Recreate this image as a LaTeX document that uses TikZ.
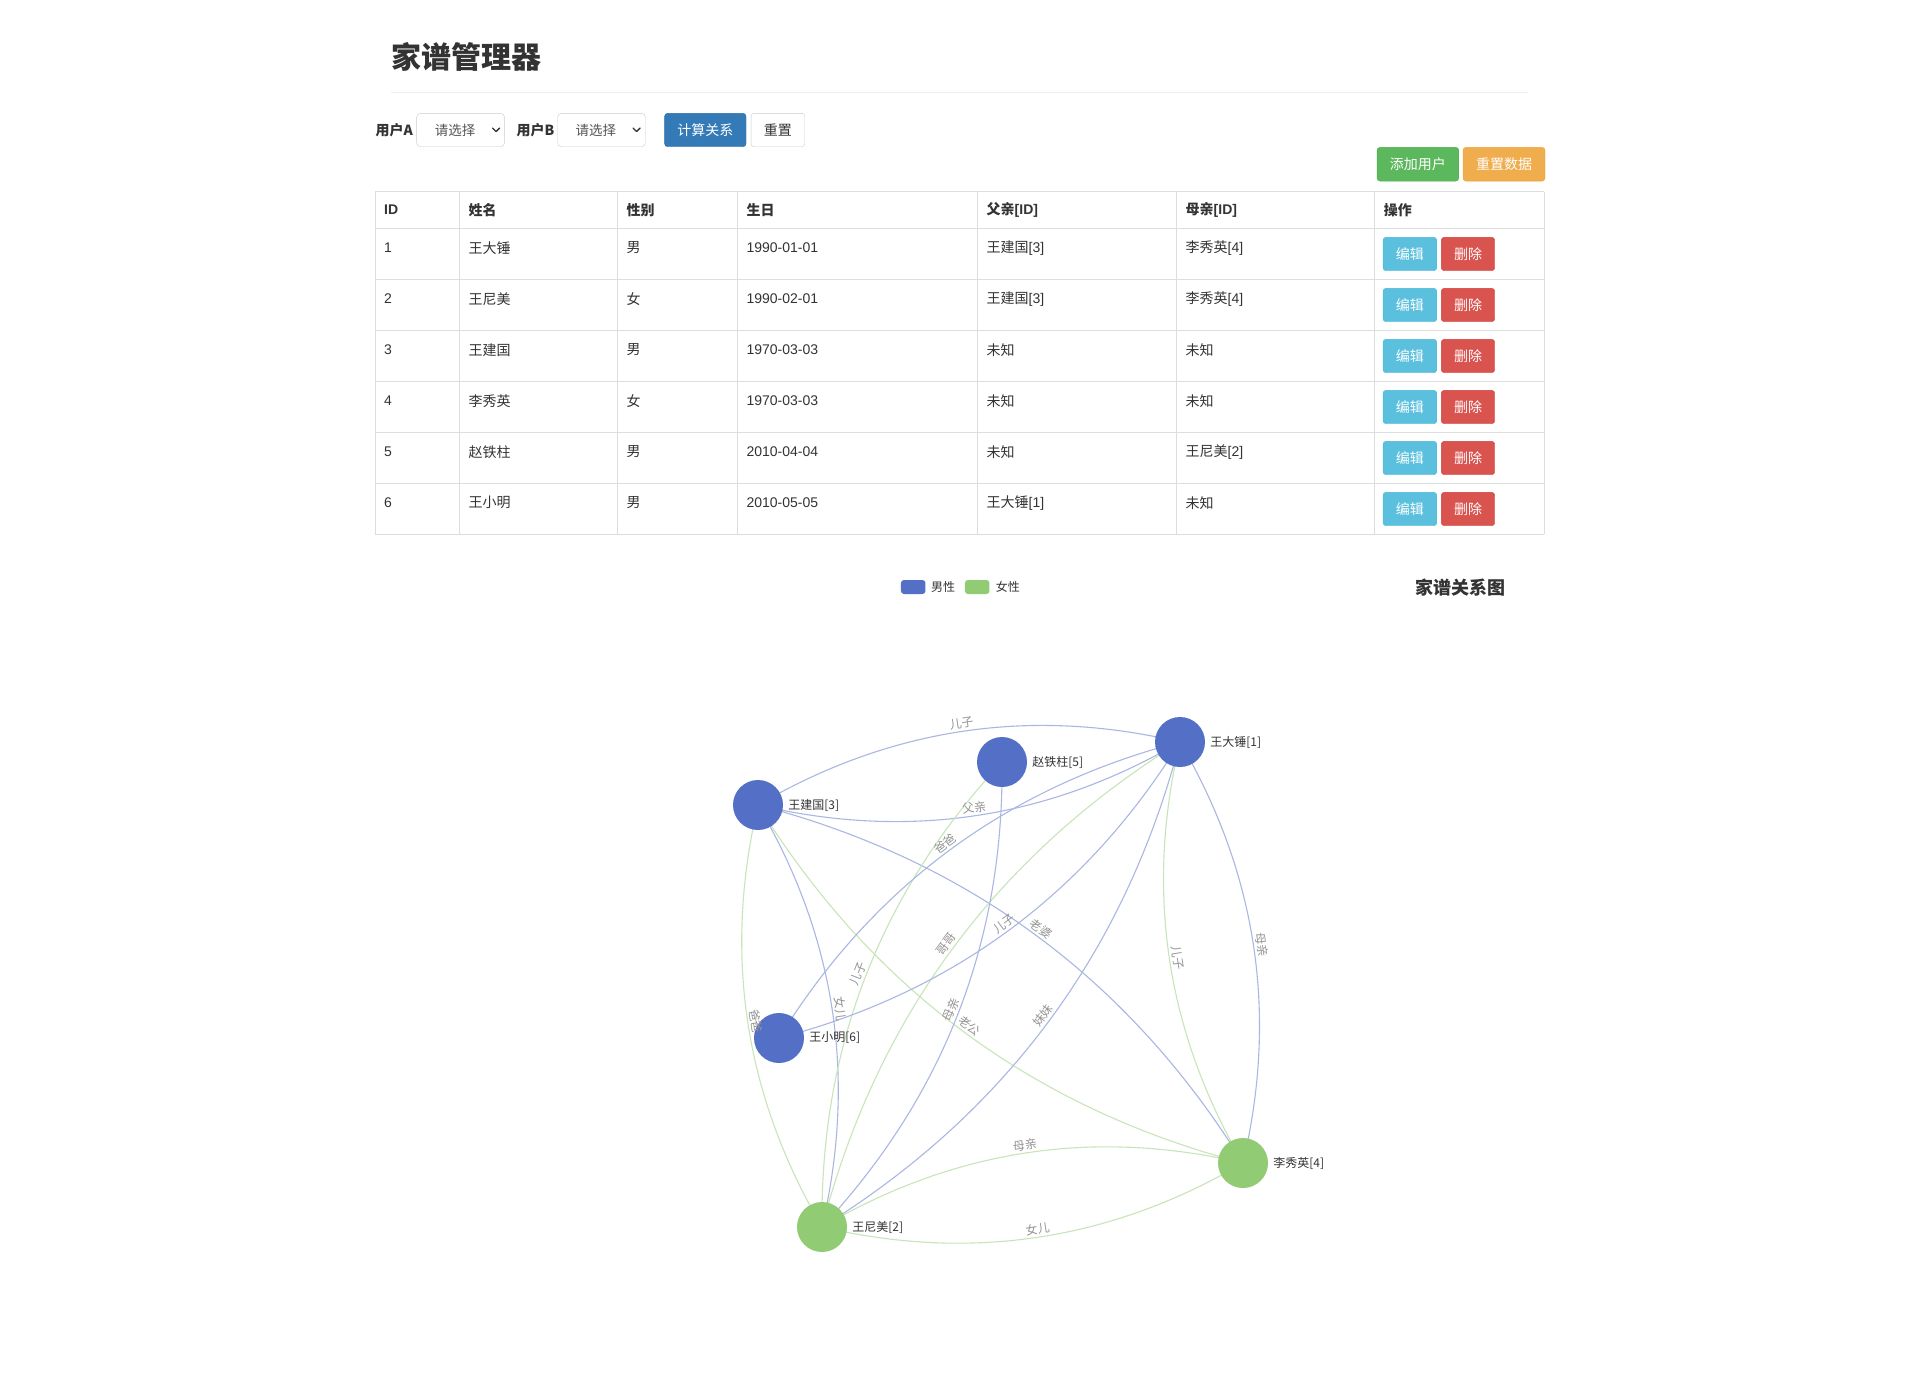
\documentclass[tikz,border=0pt]{standalone}
\usepackage{fontspec}
\setmainfont{Noto Sans CJK SC}
\newfontfamily\latf{Liberation Sans}
\usetikzlibrary{calc,backgrounds}
\definecolor{nblue}{HTML}{5470C6}
\definecolor{ngreen}{HTML}{91CC75}
\definecolor{eblue}{HTML}{A9B7E2}
\definecolor{egreen}{HTML}{C8E5BA}
\definecolor{bd}{HTML}{DDDDDD}
\definecolor{hr}{HTML}{EEEEEE}
\definecolor{txt}{HTML}{333333}
\definecolor{seltext}{HTML}{555555}
\definecolor{selbd}{HTML}{CCCCCC}
\definecolor{elab}{HTML}{949494}
\definecolor{binfo}{HTML}{5BC0DE}
\definecolor{binfoB}{HTML}{46B8DA}
\definecolor{bdanger}{HTML}{D9534F}
\definecolor{bdangerB}{HTML}{D43F3A}
\definecolor{bsucc}{HTML}{5CB85C}
\definecolor{bsuccB}{HTML}{4CAE4C}
\definecolor{bwarn}{HTML}{F0AD4E}
\definecolor{bwarnB}{HTML}{EEA236}
\definecolor{bprim}{HTML}{337AB7}
\definecolor{bprimB}{HTML}{2E6DA4}
\newcommand\fsz[1]{\fontsize{#1}{#1}\selectfont}
\newcommand\famedge[4]{%
  \path ($(#1.center)!0.5!(#2.center)$) coordinate (em);
  \path ($(em)!0.4!90:(#2.center)$) coordinate (ecp);
  \path ($(#1.center)!2/3!(ecp)$) coordinate (eca);
  \path ($(#2.center)!2/3!(ecp)$) coordinate (ecb);
  \begin{pgfonlayer}{background}
    \draw[#3] (#1.center) .. controls (eca) and (ecb) .. (#2.center);
  \end{pgfonlayer}
  \path (#1.center) .. controls (eca) and (ecb) .. (#2.center)
    node[elabel, pos=0.5, sloped, above=1.5pt] {#4};
}
\begin{document}
\begin{tikzpicture}[x=1pt,y=-1pt,
  tcell/.style={anchor=west, font=\fsz{14}, text=txt, inner sep=0},
  thead/.style={tcell, font=\fsz{14}\bfseries},
  lbl/.style={anchor=west, font=\fsz{14}\bfseries, text=txt, inner sep=0},
  selbox/.style={draw=selbd, fill=white, rounded corners=4, minimum height=33.4, inner sep=0},
  seltxt/.style={anchor=west, font=\fsz{13.5}, text=seltext, inner sep=0},
  chev/.style={draw=txt, line width=1.4, line cap=round, line join=round},
  btn/.style={rounded corners=3, minimum height=33.4, inner sep=0, font=\fsz{14}, text=white},
  gline/.style={draw=bd, line width=1},
  bedge/.style={draw=eblue, line width=1.1},
  gedge/.style={draw=egreen, line width=1.1},
  elabel/.style={font=\fsz{12}, text=elab, inner sep=1pt},
  mnode/.style={circle, fill=nblue, minimum size=50, inner sep=0},
  fnode/.style={circle, fill=ngreen, minimum size=50, inner sep=0},
  nlabel/.style={anchor=west, font=\fsz{12}, text=txt, inner sep=0}
]
\useasboundingbox (0,0) rectangle (1905,1395);
\begin{pgfonlayer}{background}
\fill[white] (0,0) rectangle (1905,1395);
\end{pgfonlayer}

% title
\node[anchor=west, inner sep=0, font=\fsz{30}\bfseries, text=txt] (title) at (391,57) {家谱管理器};
\draw[draw=hr, line width=1] (391,92) -- (1528,92);

% toolbar
\node[lbl] (la) at (375.4,130) {用户A};
\node[selbox, minimum width=88] (sa) at (460.6,130) {};
\node[seltxt] (sat) at (434.6,130) {请选择};
\draw[chev] (492.5,128) -- (496,131.5) -- (499.5,128);
\node[lbl] (lb) at (516.5,130) {用户B};
\node[selbox, minimum width=88] (sb) at (601.5,130) {};
\node[seltxt] (sbt) at (575.5,130) {请选择};
\draw[chev] (633,128) -- (636.5,131.5) -- (640,128);
\node[btn, fill=bprim, draw=bprimB, minimum width=81.4] (calc) at (705.3,130) {计算关系};
\node[btn, fill=white, draw=selbd, text=txt, minimum width=53.7] (rst) at (777.9,130) {重置};
\node[btn, fill=bsucc, draw=bsuccB, minimum width=81.7, minimum height=33.7] (add) at (1417.9,164.2) {添加用户};
\node[btn, fill=bwarn, draw=bwarnB, minimum width=82, minimum height=33.7] (rdata) at (1504,164.2) {重置数据};

% table grid
\foreach \yy in {191.7,228.3,279.3,330.3,381.3,432.3,483.3,534.3}
  \draw[gline] (375.3,\yy) -- (1544,\yy);
\foreach \xx in {375.3,459.5,617.3,737.3,977.5,1176.5,1374.7,1544}
  \draw[gline] (\xx,191.7) -- (\xx,534.3);

% header
\node[thead] (h1) at (384,210) {\latf ID};
\node[thead] (h2) at (468.5,210) {姓名};
\node[thead] (h3) at (626.3,210) {性别};
\node[thead] (h4) at (746.3,210) {生日};
\node[thead] (h5) at (986.5,210) {父亲{\latf [ID]}};
\node[thead] (h6) at (1185.5,210) {母亲{\latf [ID]}};
\node[thead] (h7) at (1383.7,210) {操作};

% rows
\foreach \r/\id/\nm/\sx/\bday/\fa/\mo in {
  0/1/王大锤/男/1990-01-01/{王建国{\latf [3]}}/{李秀英{\latf [4]}},
  1/2/王尼美/女/1990-02-01/{王建国{\latf [3]}}/{李秀英{\latf [4]}},
  2/3/王建国/男/1970-03-03/未知/未知,
  3/4/李秀英/女/1970-03-03/未知/未知,
  4/5/赵铁柱/男/2010-04-04/未知/{王尼美{\latf [2]}},
  5/6/王小明/男/2010-05-05/{王大锤{\latf [1]}}/未知}{
  \pgfmathsetmacro\ty{228.3+51*\r+19.4}
  \pgfmathsetmacro\by{228.3+51*\r+25.7}
  \node[tcell] (cid\id) at (384,\ty) {\latf\id};
  \node[tcell] (cnm\id) at (468.5,\ty) {\nm};
  \node[tcell] (csx\id) at (626.3,\ty) {\sx};
  \node[tcell] (cbd\id) at (746.3,\ty) {\latf\bday};
  \node[tcell] (cfa\id) at (986.5,\ty) {\fa};
  \node[tcell] (cmo\id) at (1185.5,\ty) {\mo};
  \node[btn, fill=binfo, draw=binfoB, minimum width=53.7] (ed\id) at (1409.9,\by) {编辑};
  \node[btn, fill=bdanger, draw=bdangerB, minimum width=53.4] (del\id) at (1468,\by) {删除};
}

% legend and chart title
\node[fill=nblue, rounded corners=3, minimum width=24.5, minimum height=14, inner sep=0] (lgm) at (913.2,587) {};
\node[nlabel] (lgmt) at (931,587) {男性};
\node[fill=ngreen, rounded corners=3, minimum width=24.5, minimum height=14, inner sep=0] (lgf) at (977.2,587) {};
\node[nlabel] (lgft) at (995.7,587) {女性};
\node[anchor=west, inner sep=0, font=\fsz{18}\bfseries, text=txt] (ctitle) at (1415,588) {家谱关系图};

% graph nodes
\node[mnode] (n1) at (1180,742) {};
\node[fnode] (n2) at (822,1227) {};
\node[mnode] (n3) at (758,805) {};
\node[fnode] (n4) at (1243,1163) {};
\node[mnode] (n5) at (1002,762) {};
\node[mnode] (n6) at (779,1038) {};
\node[nlabel] (t1) at ([xshift=5]n1.east) {王大锤[1]};
\node[nlabel] (t2) at ([xshift=5]n2.east) {王尼美[2]};
\node[nlabel] (t3) at ([xshift=5]n3.east) {王建国[3]};
\node[nlabel] (t4) at ([xshift=5]n4.east) {李秀英[4]};
\node[nlabel] (t5) at ([xshift=5]n5.east) {赵铁柱[5]};
\node[nlabel] (t6) at ([xshift=5]n6.east) {王小明[6]};

% graph edges
\famedge{n3}{n1}{bedge}{儿子}
\famedge{n1}{n3}{bedge}{父亲}
\famedge{n4}{n1}{gedge}{儿子}
\famedge{n1}{n4}{bedge}{母亲}
\famedge{n3}{n2}{bedge}{女儿}
\famedge{n2}{n3}{gedge}{爸爸}
\famedge{n4}{n2}{gedge}{女儿}
\famedge{n2}{n4}{gedge}{母亲}
\famedge{n3}{n4}{bedge}{老婆}
\famedge{n4}{n3}{gedge}{老公}
\famedge{n1}{n2}{bedge}{妹妹}
\famedge{n2}{n1}{gedge}{哥哥}
\famedge{n2}{n5}{gedge}{儿子}
\famedge{n5}{n2}{bedge}{母亲}
\famedge{n1}{n6}{bedge}{儿子}
\famedge{n6}{n1}{bedge}{爸爸}
\end{tikzpicture}
\end{document}
